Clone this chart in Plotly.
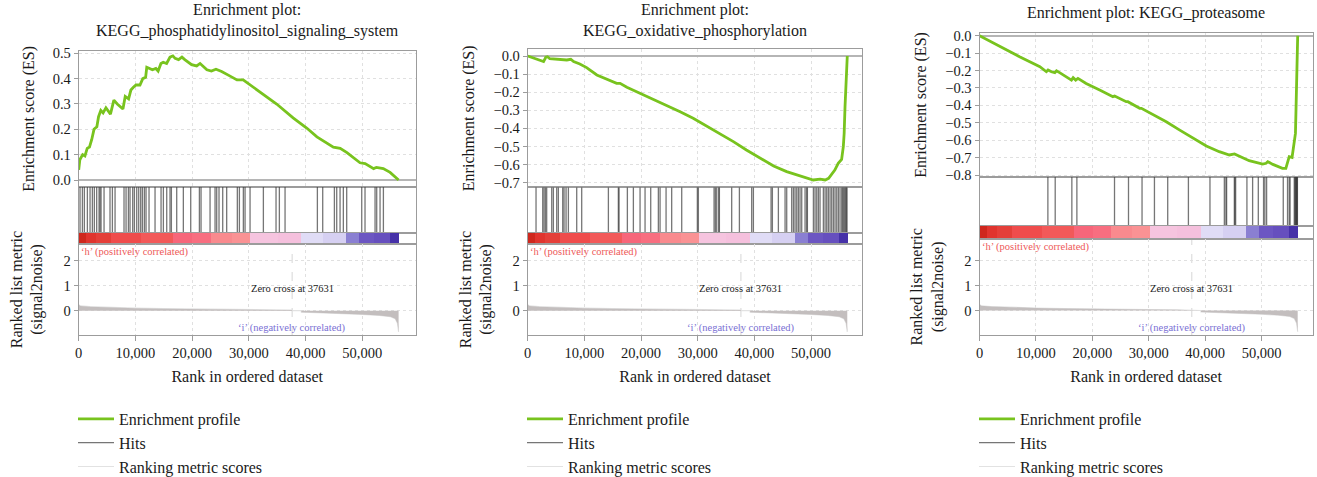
import plotly.graph_objects as go

# ---------------------------------------------------------------- data
N_GENES = 56400
ZERO_CROSS = 37631

# colour strip of the ranked list (band edges in rank units, one colour per band)
band_edges = [0, 1200, 3000, 5700, 11000, 16600, 20000, 23300, 27000, 30200,
              35000, 39100, 43000, 47100, 49400, 52000, 54800, 56400]
band_colors = ["#cf271d", "#e0342e", "#e43f39", "#ef4c4c", "#f25959", "#f7667a",
               "#f86e80", "#f98a8e", "#fa9294", "#f6c4df", "#f5c0dd", "#e0dcf6",
               "#d6d0f2", "#8a7fd2", "#6c56c2", "#664fbe", "#4631a8"]

# ranked list metric (signal2noise)
metric_rank = [0, 300, 2000, 5000, 10000, 15000, 20000, 25000, 30000, 35000,
               37630, 37631, 39250, 39260, 42000, 45000, 48000, 50000, 53000,
               55000, 55800, 56200, 56400]
metric_value = [0.24, 0.19, 0.16, 0.13, 0.10, 0.08, 0.06, 0.05, 0.04, 0.03,
                0.025, 0.0, 0.0, -0.06, -0.08, -0.10, -0.13, -0.15, -0.19,
                -0.24, -0.32, -0.50, -0.85]

# KEGG_phosphatidylinositol_signaling_system
pi_rank = [0, 200, 700, 1100, 1500, 1900, 2300, 2700, 3200, 3500, 3900, 4300,
           4800, 5100, 5600, 6200, 6800, 7800, 8200, 8800, 9200, 9600, 10100,
           10800, 11300, 11800, 12000, 12500, 13000, 13600, 14000, 14500, 14900,
           15500, 16100, 16600, 17000, 17600, 18200, 18700, 19900, 20800, 21400,
           22600, 23400, 24200, 25200, 26700, 27900, 29000, 30200, 32600, 34900,
           37800, 40200, 42000, 44900, 46100, 47300, 49600, 50500, 52000, 52500,
           53700, 54900, 56400]
pi_es = [0.04, 0.08, 0.10, 0.095, 0.125, 0.13, 0.16, 0.20, 0.21, 0.25, 0.275,
         0.265, 0.285, 0.275, 0.26, 0.315, 0.30, 0.28, 0.33, 0.32, 0.355, 0.365,
         0.375, 0.375, 0.40, 0.405, 0.445, 0.44, 0.435, 0.44, 0.43, 0.46, 0.465,
         0.46, 0.485, 0.49, 0.48, 0.475, 0.485, 0.475, 0.455, 0.45, 0.46, 0.435,
         0.43, 0.437, 0.428, 0.41, 0.395, 0.395, 0.375, 0.335, 0.30, 0.245,
         0.205, 0.17, 0.13, 0.125, 0.108, 0.068, 0.065, 0.045, 0.05, 0.045,
         0.03, 0.0]
pi_hits = [235, 650, 1000, 1530, 2000, 2410, 2760, 3170, 3590, 3760, 3940, 4470,
           5520, 5940, 6410, 7990, 8350, 8760, 9050, 9520, 9820, 10230, 10580,
           10930, 11230, 11580, 11870, 12400, 13460, 14520, 14930, 15520, 16100,
           16340, 17280, 18450, 19750, 21280, 21570, 23160, 24040, 24330, 24740,
           25390, 26090, 27970, 28330, 29030, 29330, 30210, 32560, 34790, 35380,
           36380, 42080, 43020, 45080, 45490, 46080, 46660, 47250, 49900, 50480,
           52250, 52540, 53130, 53720]

# KEGG_oxidative_phosphorylation
ox_rank = [0, 1300, 2200, 2800, 3200, 3500, 3900, 4800, 5700, 6900, 7600, 8100,
           9200, 10400, 12200, 13900, 15700, 16300, 17500, 19800, 22200, 24500,
           26900, 29200, 31600, 33900, 36300, 38600, 41000, 43400, 45700, 47500,
           49200, 50400, 51600, 52500, 53100, 53700, 54200, 54800, 55400, 55700,
           55850, 56000, 56150, 56400]
ox_es = [0.0, -0.015, -0.022, -0.031, -0.007, -0.004, -0.015, -0.018, -0.022,
         -0.022, -0.018, -0.031, -0.044, -0.064, -0.105, -0.129, -0.151, -0.151,
         -0.173, -0.206, -0.239, -0.271, -0.308, -0.344, -0.387, -0.427, -0.473,
         -0.519, -0.565, -0.608, -0.639, -0.657, -0.670, -0.685, -0.680, -0.685,
         -0.676, -0.652, -0.630, -0.593, -0.571, -0.501, -0.427, -0.280, -0.151,
         0.0]
ox_hits = [1470, 2650, 2880, 3120, 3350, 4240, 4530, 5120, 5410, 6180, 6410, 6770,
           7180, 8650, 9530, 14240, 16000, 16120, 17590, 18650, 19830, 20710,
           21710, 23060, 23360, 24420, 25410, 27180, 29940, 30120, 32890, 33120,
           33360, 33710, 33830, 36000, 37360, 39530, 39830, 42950, 43180, 44240,
           45420, 45710, 46590, 46890, 47180, 47480, 47770, 48060, 48360, 48950,
           49240, 49360, 50420, 50710, 51010, 51300, 51590, 52180, 52480, 52770,
           53060, 53360, 53650, 53950, 54240, 54540, 54830, 55120, 55420, 55590,
           55770, 55950, 56120, 56250, 56350]

# KEGG_proteasome
pr_rank = [0, 3600, 7100, 10700, 11850, 12150, 12750, 13350, 13650, 14200, 15700,
           16300, 16600, 17050, 17450, 18900, 21300, 23650, 23950, 26000, 26300,
           28400, 28700, 30700, 33100, 35500, 37800, 40200, 42500, 44300, 45200,
           46700, 47800, 49000, 50200, 50800, 51100, 52000, 53700, 54300, 54600,
           54900, 55400, 55700, 56000, 56100, 56200, 56300, 56400]
pr_es = [0.0, -0.063, -0.121, -0.178, -0.207, -0.197, -0.207, -0.212, -0.201,
         -0.212, -0.245, -0.255, -0.241, -0.255, -0.245, -0.274, -0.312, -0.350,
         -0.346, -0.379, -0.379, -0.417, -0.417, -0.450, -0.494, -0.542, -0.589,
         -0.633, -0.666, -0.685, -0.679, -0.704, -0.718, -0.727, -0.737, -0.733,
         -0.724, -0.739, -0.762, -0.762, -0.733, -0.695, -0.699, -0.618, -0.561,
         -0.427, -0.274, -0.101, 0.0]
pr_hits = [12120, 13420, 16370, 17260, 23930, 26410, 28810, 31010, 33360, 37030,
           40850, 43400, 43680, 43800, 45170, 45270, 45400, 47400, 48410, 49420,
           50350, 50580, 50890, 53840, 54600, 54900, 55050, 55790, 55900, 56000,
           56070, 56150, 56200, 56250, 56300, 56350]

# ---------------------------------------------------------------- layout geometry (pixels)
W, H = 1317, 477
FONT = "Liberation Serif"
GREEN = "#78c31e"
FRAME = "#9c9c9c"
GRID = "#e0e0e0"

panels = [
    dict(title="Enrichment plot:<br>KEGG_phosphatidylinositol_signaling_system",
         rank=pi_rank, es=pi_es, hits=pi_hits,
         x0=78.7, x1=415.7, xmax=59415, es_top=50.7, es_bot=187, cb_top=233,
         cb_bot=244, m_bot=335, es_range=[-0.0276, 0.5103], m_range=[-0.972, 2.668],
         title_y=42, legend_x=73),
    dict(title="Enrichment plot:<br>KEGG_oxidative_phosphorylation",
         rank=ox_rank, es=ox_es, hits=ox_hits,
         x0=527.7, x1=862.3, xmax=59050, es_top=49.3, es_bot=187.3, cb_top=233,
         cb_bot=244, m_bot=335, es_range=[-0.7254, 0.037], m_range=[-0.972, 2.668],
         title_y=42, legend_x=522),
    dict(title="Enrichment plot: KEGG_proteasome",
         rank=pr_rank, es=pr_es, hits=pr_hits,
         x0=979.5, x1=1312.7, xmax=59060, es_top=33, es_bot=177, cb_top=226,
         cb_bot=238.7, m_bot=335, es_range=[-0.8115, 0.0155], m_range=[-0.98, 2.87],
         title_y=24, legend_x=974),
]


def xdom(p):
    return [p["x0"] / W, p["x1"] / W]


def ydom(top, bot):
    return [1 - bot / H, 1 - top / H]


def ax_name(kind, n):
    return kind + "axis" + ("" if n == 1 else str(n))


def ax_ref(kind, n):
    return kind + ("" if n == 1 else str(n))


fig = go.Figure()
layout = {}
annotations = []
shapes = []

band_centers = [(a + b) / 2 for a, b in zip(band_edges[:-1], band_edges[1:])]
band_widths = [b - a for a, b in zip(band_edges[:-1], band_edges[1:])]

frame_common = dict(showline=True, linecolor=FRAME, linewidth=1, mirror=True,
                    zeroline=False, automargin=False)

for i, p in enumerate(panels):
    n_es, n_hit, n_cb, n_m = (4 * i + 1, 4 * i + 2, 4 * i + 3, 4 * i + 4)
    leg = "legend" if i == 0 else f"legend{i + 1}"
    xr = [0, p["xmax"]]

    # ---- axes
    layout[ax_name("x", n_es)] = dict(domain=xdom(p), range=xr, anchor=ax_ref("y", n_es),
                                      showticklabels=False, ticks="", dtick=10000, tick0=0,
                                      showgrid=True, gridcolor=GRID, griddash="dot",
                                      **frame_common)
    layout[ax_name("y", n_es)] = dict(domain=ydom(p["es_top"], p["es_bot"]), range=p["es_range"],
                                      anchor=ax_ref("x", n_es), dtick=0.1, tick0=0,
                                      tickformat=".1f", ticks="outside", ticklen=4,
                                      tickcolor=FRAME, showgrid=True, gridcolor=GRID,
                                      griddash="dot",
                                      title=dict(text="Enrichment score (ES)", standoff=14,
                                                 font=dict(size=16)),
                                      showline=True, linecolor=FRAME, linewidth=1, mirror=True,
                                      zeroline=True, zerolinecolor="#b5b5b5", zerolinewidth=1.5,
                                      automargin=False)
    for n, (top, bot) in ((n_hit, (p["es_bot"], p["cb_top"])), (n_cb, (p["cb_top"], p["cb_bot"]))):
        layout[ax_name("x", n)] = dict(domain=xdom(p), range=xr, anchor=ax_ref("y", n),
                                       showticklabels=False, ticks="", showgrid=False,
                                       **frame_common)
        layout[ax_name("y", n)] = dict(domain=ydom(top, bot), range=[0, 1], anchor=ax_ref("x", n),
                                       showticklabels=False, ticks="", showgrid=False,
                                       **frame_common)
    layout[ax_name("x", n_m)] = dict(domain=xdom(p), range=xr, anchor=ax_ref("y", n_m),
                                     dtick=10000, tick0=0, tickformat=",", ticks="outside",
                                     ticklen=5, tickcolor=FRAME, showgrid=True, gridcolor=GRID,
                                     griddash="dot",
                                     title=dict(text="Rank in ordered dataset", standoff=10,
                                                font=dict(size=16)),
                                     **frame_common)
    layout[ax_name("y", n_m)] = dict(domain=ydom(p["cb_bot"], p["m_bot"]), range=p["m_range"],
                                     anchor=ax_ref("x", n_m), tickvals=[0, 1, 2],
                                     ticks="outside", ticklen=4, tickcolor=FRAME,
                                     showgrid=True, gridcolor=GRID, griddash="dot",
                                     title=dict(text="Ranked list metric<br>(signal2noise)",
                                                standoff=16, font=dict(size=16)),
                                     **frame_common)

    # ---- ranked list metric: light outline underneath, grey area on top
    fig.add_trace(go.Scatter(x=metric_rank, y=metric_value, mode="lines",
                             name="Ranking metric scores",
                             line=dict(width=1.2, color="#e2e2e2"),
                             xaxis=ax_ref("x", n_m), yaxis=ax_ref("y", n_m),
                             legend=leg, legendrank=3))
    fig.add_trace(go.Scatter(x=metric_rank, y=metric_value, mode="lines", fill="tozeroy",
                             fillcolor="#c3bebe", line=dict(width=0, color="#c3bebe"),
                             xaxis=ax_ref("x", n_m), yaxis=ax_ref("y", n_m),
                             showlegend=False, hoverinfo="skip"))

    # ---- colour strip
    fig.add_trace(go.Bar(x=band_centers, y=[1] * len(band_centers), width=band_widths,
                         marker=dict(color=band_colors, line=dict(width=0)),
                         xaxis=ax_ref("x", n_cb), yaxis=ax_ref("y", n_cb),
                         showlegend=False, hoverinfo="skip"))

    # ---- hits
    hx, hy = [], []
    for h in p["hits"]:
        hx += [h, h, None]
        hy += [0, 1, None]
    fig.add_trace(go.Scatter(x=hx, y=hy, mode="lines", name="Hits",
                             line=dict(width=1.3, color="rgba(60,60,60,0.7)"),
                             xaxis=ax_ref("x", n_hit), yaxis=ax_ref("y", n_hit),
                             legend=leg, legendrank=2))

    # ---- enrichment profile
    fig.add_trace(go.Scatter(x=p["rank"], y=p["es"], mode="lines", name="Enrichment profile",
                             line=dict(width=2.8, color=GREEN),
                             xaxis=ax_ref("x", n_es), yaxis=ax_ref("y", n_es),
                             legend=leg, legendrank=1))

    # ---- legend box for this panel
    layout[leg] = dict(x=p["legend_x"] / W, y=1 - 402 / H, xanchor="left", yanchor="top",
                       font=dict(family=FONT, size=16, color="#1a1a1a"),
                       bgcolor="rgba(0,0,0,0)", itemwidth=36, traceorder="normal")

    # ---- texts
    cx = (p["x0"] + p["x1"]) / 2 / W
    annotations.append(dict(text=p["title"], x=cx, y=1 - p["title_y"] / H, xref="paper",
                            yref="paper", xanchor="center", yanchor="bottom", showarrow=False,
                            font=dict(size=16, color="#1a1a1a")))
    annotations.append(dict(text="\u2018h\u2019 (positively correlated)", x=0, y=1,
                            xref=ax_ref("x", n_m) + " domain", yref=ax_ref("y", n_m) + " domain",
                            xanchor="left", yanchor="top", yshift=0, showarrow=False,
                            font=dict(size=10.5, color="#ee5858")))
    annotations.append(dict(text="\u2018i\u2019 (negatively correlated)", x=ZERO_CROSS, y=0,
                            xref=ax_ref("x", n_m), yref=ax_ref("y", n_m) + " domain",
                            xanchor="center", yanchor="bottom", yshift=-1, showarrow=False,
                            font=dict(size=10.5, color="#7a70d4")))
    annotations.append(dict(text=f"Zero cross at {ZERO_CROSS}", x=ZERO_CROSS, y=0.87,
                            xref=ax_ref("x", n_m), yref=ax_ref("y", n_m),
                            xanchor="center", yanchor="middle", showarrow=False,
                            font=dict(size=10.5, color="#1a1a1a")))
    shapes.append(dict(type="line", x0=ZERO_CROSS, x1=ZERO_CROSS, y0=0, y1=1,
                       xref=ax_ref("x", n_m), yref=ax_ref("y", n_m) + " domain",
                       line=dict(color="#d6d6d6", width=1, dash="dash"), layer="below"))

fig.update_layout(**layout)
fig.update_layout(
    width=W, height=H, margin=dict(l=0, r=0, t=0, b=0, autoexpand=False),
    paper_bgcolor="white", plot_bgcolor="white",
    font=dict(family=FONT, size=14.5, color="#1a1a1a"),
    annotations=annotations, shapes=shapes, bargap=0,
)

fig.write_html("out.html")
